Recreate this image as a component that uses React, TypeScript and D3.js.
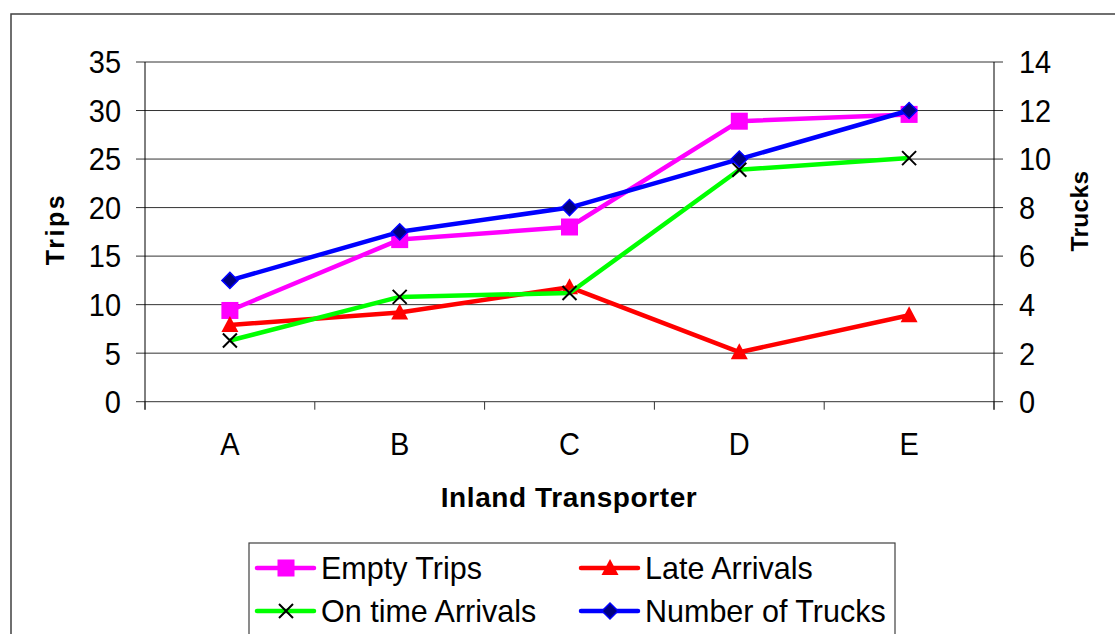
import React from "react";
import * as d3 from "d3";

const categories = ["A", "B", "C", "D", "E"];
const emptyTrips = [9.4, 16.7, 18.0, 28.9, 29.6];
const lateArrivals = [7.9, 9.2, 11.8, 5.1, 8.9];
const onTimeArrivals = [6.3, 10.8, 11.2, 23.9, 25.1];
const numberOfTrucks = [5, 7, 8, 10, 12];
const leftTicks = [0, 5, 10, 15, 20, 25, 30, 35];
const rightTicks = [0, 2, 4, 6, 8, 10, 12, 14];

const FONT = "'Liberation Sans', Arial, Helvetica, sans-serif";

type MarkerKind = "square" | "triangle" | "x" | "diamond";

function Marker({ kind, x, y, color }: { kind: MarkerKind; x: number; y: number; color: string }) {
  if (kind === "square") {
    return <rect x={x - 8.5} y={y - 8.5} width={17} height={17} fill={color} />;
  }
  if (kind === "triangle") {
    return <path d={`M${x},${y - 9} L${x + 8.5},${y + 7} L${x - 8.5},${y + 7} Z`} fill={color} />;
  }
  if (kind === "x") {
    return (
      <path
        d={`M${x - 7},${y - 7} L${x + 7},${y + 7} M${x - 7},${y + 7} L${x + 7},${y - 7}`}
        stroke="#000"
        strokeWidth={2}
        fill="none"
      />
    );
  }
  return (
    <path
      d={`M${x},${y - 8} L${x + 8},${y} L${x},${y + 8} L${x - 8},${y} Z`}
      fill="#000080"
      stroke={color}
      strokeWidth={1.5}
    />
  );
}

export default function App() {
  const W = 1115;
  const H = 634;
  const left = 145;
  const right = 994;
  const top = 62;
  const bottom = 401.7;

  const x = d3.scaleBand<string>().domain(categories).range([left, right]).padding(0);
  const cx = (c: string) => (x(c) as number) + x.bandwidth() / 2;
  const yL = d3.scaleLinear().domain([0, 35]).range([bottom, top]);
  const yR = d3.scaleLinear().domain([0, 14]).range([bottom, top]);

  const series = [
    { name: "Empty Trips", values: emptyTrips, color: "#FF00FF", kind: "square" as MarkerKind, scale: yL },
    { name: "Late Arrivals", values: lateArrivals, color: "#FF0000", kind: "triangle" as MarkerKind, scale: yL },
    { name: "On time Arrivals", values: onTimeArrivals, color: "#00FF00", kind: "x" as MarkerKind, scale: yL },
    { name: "Number of Trucks", values: numberOfTrucks, color: "#0000FF", kind: "diamond" as MarkerKind, scale: yR },
  ];

  const boundaries = [...categories.map((c) => x(c) as number), right];

  const legendPos = [
    { lx: 257, ly: 568, tx: 321 },
    { lx: 581, ly: 568, tx: 645 },
    { lx: 257, ly: 611, tx: 321 },
    { lx: 581, ly: 611, tx: 645 },
  ];

  return (
    <svg
      width={W}
      height={H}
      style={{ position: "absolute", left: 0, top: 0, display: "block", background: "#fff" }}
      fontFamily={FONT}
    >
      <rect x={0} y={0} width={W} height={H} fill="#fff" />
      <rect x={11} y={14} width={1130} height={660} fill="none" stroke="#404040" strokeWidth={1.5} />

      {/* gridlines and left ticks */}
      {leftTicks.map((t) => (
        <g key={"l" + t}>
          <line x1={136} x2={right} y1={yL(t)} y2={yL(t)} stroke="#333" strokeWidth={1} />
          <text
            transform={`translate(121,${yL(t)}) scale(1,1.1)`}
            y={10.3}
            textAnchor="end"
            fontSize={29}
            fill="#000"
          >
            {t}
          </text>
        </g>
      ))}
      {rightTicks.map((t) => (
        <g key={"r" + t}>
          <line x1={right} x2={1003} y1={yR(t)} y2={yR(t)} stroke="#333" strokeWidth={1} />
          <text
            transform={`translate(1019,${yR(t)}) scale(1,1.1)`}
            y={10.3}
            textAnchor="start"
            fontSize={29}
            fill="#000"
          >
            {t}
          </text>
        </g>
      ))}
      {/* axes */}
      <line x1={left} x2={left} y1={top} y2={bottom + 8} stroke="#000" strokeWidth={1} />
      <line x1={right} x2={right} y1={top} y2={bottom + 8} stroke="#000" strokeWidth={1} />
      {boundaries.map((b, i) => (
        <line key={"b" + i} x1={b} x2={b} y1={bottom} y2={bottom + 8} stroke="#333" strokeWidth={1} />
      ))}
      {categories.map((c) => (
        <text
          key={"c" + c}
          transform={`translate(${cx(c)},455) scale(1,1.1)`}
          textAnchor="middle"
          fontSize={29}
          fill="#000"
        >
          {c}
        </text>
      ))}

      {/* axis titles */}
      <text x={569} y={507} textAnchor="middle" fontSize={28} fontWeight="bold" letterSpacing={0.6} fill="#000">
        Inland Transporter
      </text>
      <text
        transform="translate(64,229) rotate(-90)"
        textAnchor="middle"
        fontSize={25}
        fontWeight="bold"
        letterSpacing={2.5}
        fill="#000"
      >
        Trips
      </text>
      <text
        transform="translate(1088,211) rotate(-90)"
        textAnchor="middle"
        fontSize={24.5}
        fontWeight="bold"
        letterSpacing={0.3}
        fill="#000"
      >
        Trucks
      </text>

      {/* series */}
      {series.map((s) => {
        const line = d3
          .line<number>()
          .x((_, i) => cx(categories[i]))
          .y((v) => s.scale(v));
        return (
          <g key={s.name}>
            <path d={line(s.values) || ""} fill="none" stroke={s.color} strokeWidth={4.5} strokeLinejoin="round" />
            {s.values.map((v, i) => (
              <Marker key={i} kind={s.kind} x={cx(categories[i])} y={s.scale(v)} color={s.color} />
            ))}
          </g>
        );
      })}

      {/* legend */}
      <rect x={249} y={543} width={646} height={120} fill="#fff" stroke="#404040" strokeWidth={1.2} />
      {series.map((s, i) => {
        const p = legendPos[i];
        return (
          <g key={"lg" + s.name}>
            <line
              x1={p.lx}
              x2={p.lx + 57}
              y1={p.ly}
              y2={p.ly}
              stroke={s.color}
              strokeWidth={4.5}
              strokeLinecap="round"
            />
            <Marker kind={s.kind} x={p.lx + 29} y={p.ly} color={s.color} />
            <text x={p.tx} y={p.ly + 11} fontSize={30.5} fill="#000">
              {s.name}
            </text>
          </g>
        );
      })}
    </svg>
  );
}
